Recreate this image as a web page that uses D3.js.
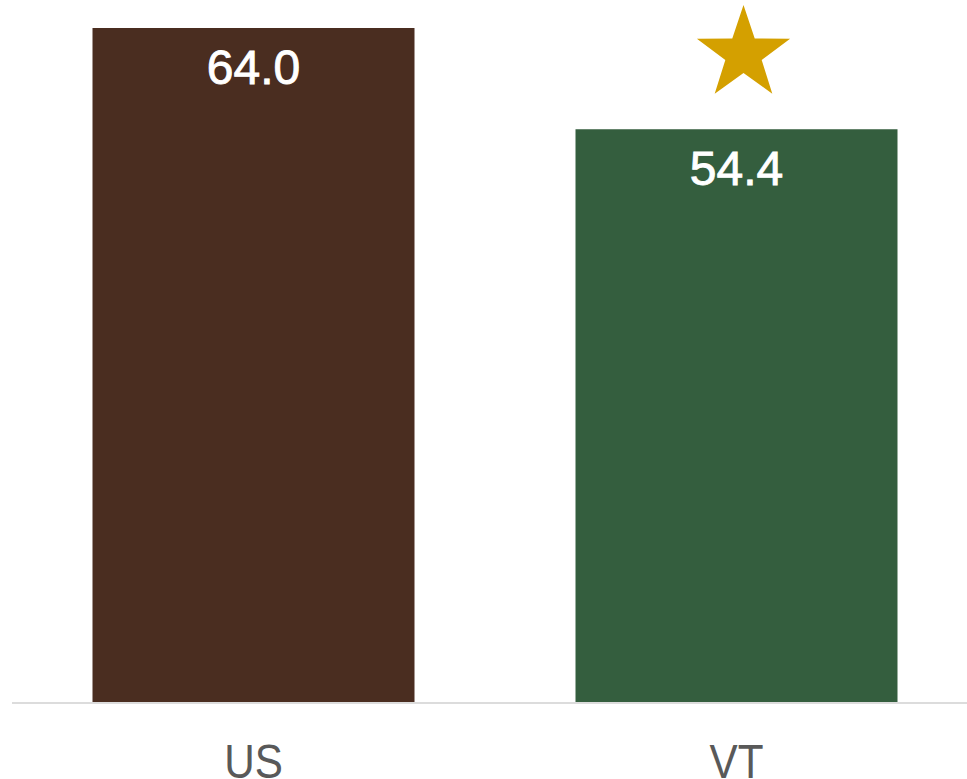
<!DOCTYPE html>
<html>
<head>
<meta charset="utf-8">
<script src="https://cdn.jsdelivr.net/npm/d3@7"></script>
<style>
  html, body { margin: 0; padding: 0; background: #fff; }
  svg { display: block; }
</style>
</head>
<body>
<svg id="chart" width="967" height="779"></svg>
<script>
const categories = ["US", "VT"];
const values = [64.0, 54.4];
const colors = ["#4a2d20", "#345e3e"];
const starred = ["VT"];

const width = 967, height = 779;
const svg = d3.select("#chart");

const x = d3.scaleBand()
  .domain(categories)
  .range([12, 978])
  .paddingInner(1/3)
  .paddingOuter(1/6);

const y = d3.scaleLinear()
  .domain([0, 64])
  .range([703, 28]);

// baseline
svg.append("line")
  .attr("x1", 12).attr("x2", width)
  .attr("y1", y(0)).attr("y2", y(0))
  .attr("stroke", "#dcdcdc")
  .attr("stroke-width", 2);

const data = categories.map((c, i) => ({ cat: c, val: values[i], color: colors[i] }));

svg.selectAll("rect.bar")
  .data(data)
  .join("rect")
  .attr("class", "bar")
  .attr("x", d => x(d.cat))
  .attr("width", x.bandwidth())
  .attr("y", d => y(d.val))
  .attr("height", d => y(0) - 1 - y(d.val))
  .attr("fill", d => d.color);

svg.selectAll("text.val")
  .data(data)
  .join("text")
  .attr("class", "val")
  .attr("x", d => x(d.cat) + x.bandwidth() / 2)
  .attr("y", d => y(d.val) + 56)
  .attr("text-anchor", "middle")
  .attr("fill", "#ffffff")
  .attr("stroke", "#ffffff")
  .attr("stroke-width", 0.9)
  .style("font-family", "'Liberation Sans', Arial, sans-serif")
  .style("font-size", "48px")
  .text(d => d.val.toFixed(1));

svg.selectAll("text.cat")
  .data(data)
  .join("text")
  .attr("class", "cat")
  .attr("transform", d => `translate(${x(d.cat) + x.bandwidth() / 2}, 778) scale(0.88, 1)`)
  .attr("text-anchor", "middle")
  .attr("fill", "#595959")
  .style("font-family", "'Liberation Sans', Arial, sans-serif")
  .style("font-size", "48px")
  .text(d => d.cat);

// star
function starPath(R, r) {
  const pts = [];
  for (let i = 0; i < 10; i++) {
    const a = -Math.PI / 2 + i * Math.PI / 5;
    const rad = i % 2 === 0 ? R : r;
    pts.push([rad * Math.cos(a), rad * Math.sin(a)]);
  }
  return "M" + pts.map(p => p.join(",")).join("L") + "Z";
}
const R = 49;
svg.selectAll("path.star")
  .data(data.filter(d => starred.includes(d.cat)))
  .join("path")
  .attr("class", "star")
  .attr("d", starPath(R, R * 0.39))
  .attr("transform", d => `translate(${x(d.cat) + x.bandwidth() / 2 + 7}, ${54})`)
  .attr("fill", "#d4a000");
</script>
</body>
</html>
